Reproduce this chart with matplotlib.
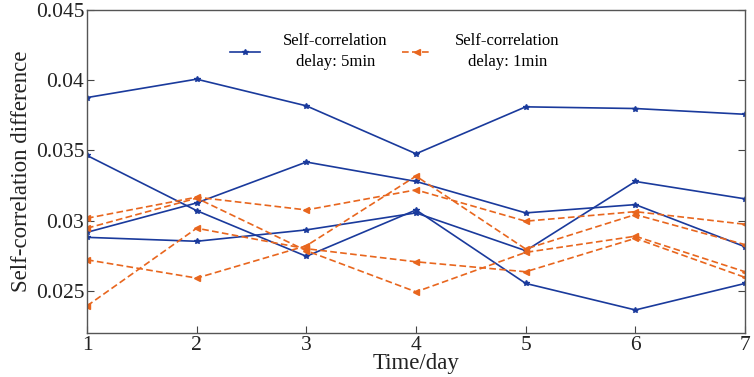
import matplotlib
matplotlib.use('Agg')
import matplotlib.pyplot as plt

# data
days = [1, 2, 3, 4, 5, 6, 7]
blue_a = [0.03876, 0.04007, 0.03817, 0.03476, 0.03810, 0.03798, 0.03757]
blue_b = [0.03464, 0.03071, 0.02746, 0.03076, 0.02553, 0.02364, 0.02553]
blue_c = [0.02917, 0.03126, 0.03417, 0.03279, 0.03055, 0.03114, 0.02814]
blue_d = [0.02881, 0.02853, 0.02934, 0.03055, 0.02786, 0.03279, 0.03155]
orange_a = [0.03017, 0.03167, 0.03076, 0.03219, 0.02996, 0.03064, 0.02974]
orange_b = [0.02946, 0.03160, 0.02786, 0.02493, 0.02774, 0.02889, 0.02636]
orange_c = [0.02721, 0.02591, 0.02821, 0.03317, 0.02798, 0.03043, 0.02829]
orange_d = [0.02393, 0.02946, 0.02800, 0.02707, 0.02636, 0.02874, 0.02596]

yticks = [0.025, 0.03, 0.035, 0.04, 0.045]
ytick_labels = ['0.025', '0.03', '0.035', '0.04', '0.045']

blue = '#1a3a9c'
orange = '#e8661e'

plt.rcParams['font.family'] = ['Liberation Serif', 'DejaVu Serif']

fig = plt.figure(figsize=(7.54, 3.77), dpi=100)
ax = fig.add_axes([0.1154, 0.1167, 0.8727, 0.857])

for i, s in enumerate([blue_a, blue_b, blue_c, blue_d]):
    ax.plot(days, s, color=blue, lw=1.2, marker='*', ms=4,
            label='Self-correlation\ndelay: 5min' if i == 0 else None)
for i, s in enumerate([orange_a, orange_b, orange_c, orange_d]):
    ax.plot(days, s, color=orange, lw=1.2, ls='--', dashes=(4, 2), marker='<', ms=4,
            label='Self-correlation\ndelay: 1min' if i == 0 else None)

ax.set_xlim(1, 7)
ax.set_ylim(0.022, 0.045)
ax.set_xticks(days)
ax.set_yticks(yticks)
ax.set_yticklabels(ytick_labels)
ax.tick_params(direction='in', labelsize=15.5, length=5, colors='#444444',
               labelcolor='#222222', right=True, pad=2)
for sp in ax.spines.values():
    sp.set_color('#555555')
    sp.set_linewidth(1.0)

ax.set_xlabel('Time/day', fontsize=16.5, labelpad=-1, color='#222222')
ax.set_ylabel('Self-correlation difference', fontsize=16.5, labelpad=3, color='#222222')

leg = ax.legend(loc='upper center', bbox_to_anchor=(0.468, 0.975), ncol=2, frameon=False,
                fontsize=12, handlelength=1.8, columnspacing=0.9, handletextpad=1.35)
for t in leg.get_texts():
    t.set_multialignment('center')
    t.set_linespacing(1.4)

plt.savefig('out.png', dpi=100)
